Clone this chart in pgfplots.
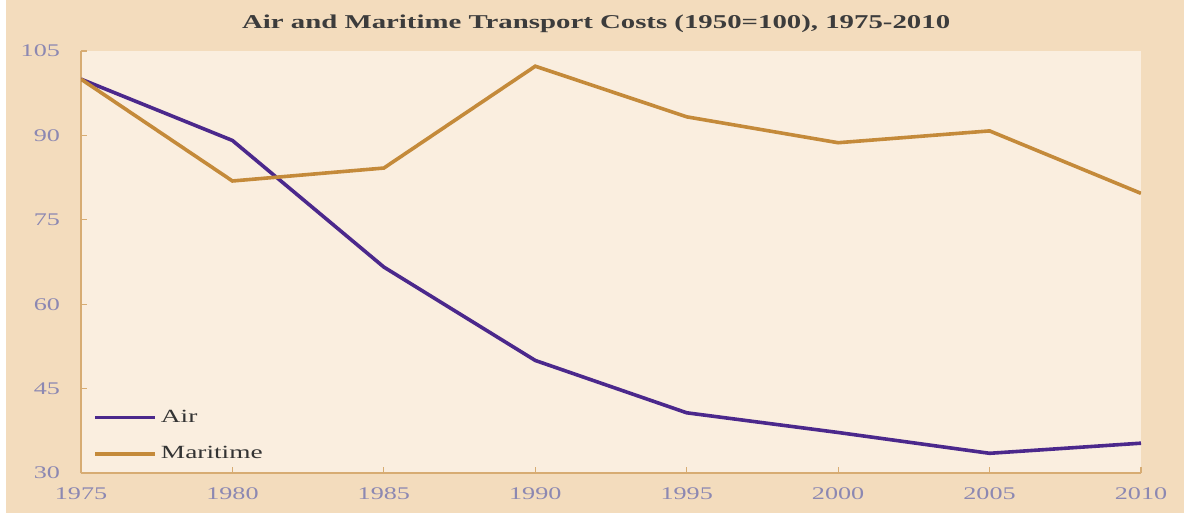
\documentclass[border=0pt]{standalone}
\usepackage{fontspec}
\setmainfont{Liberation Serif}[FakeStretch=1.47]
\usepackage{pgfplots}
\pgfplotsset{compat=1.18}
\definecolor{outerbg}{RGB}{243,220,189}
\definecolor{plotbg}{RGB}{250,238,223}
\definecolor{aircol}{RGB}{75,40,140}
\definecolor{marcol}{RGB}{196,138,58}
\definecolor{axcol}{RGB}{215,172,115}
\definecolor{tickcol}{RGB}{140,136,178}
\definecolor{titlecol}{RGB}{60,60,60}
\begin{document}
\begin{tikzpicture}
\path[use as bounding box] (-40.5bp,-21bp) rectangle (551.5bp,236.5bp);
\fill[white] (-40.5bp,-21bp) rectangle (551.5bp,236.5bp);
\fill[outerbg] (-37.5bp,-20bp) rectangle (551.5bp,236.5bp);
\begin{axis}[
  at={(0,0)}, anchor=south west,
  scale only axis, width=530bp, height=211bp,
  xmin=1975, xmax=2010, ymin=30, ymax=105,
  xtick={1975,1980,...,2010}, ytick={30,45,...,105},
  axis lines=left, axis line style={-, draw=axcol, line width=1bp},
  tick align=inside, major tick length=3bp,
  tick style={draw=axcol, line width=0.6bp},
  axis background/.style={fill=plotbg},
  /pgf/number format/assume math mode=true,
  /pgf/number format/1000 sep={},
  ticklabel style={font=\fontsize{8.9bp}{10bp}\selectfont, text=tickcol},
  xticklabel style={yshift=-4bp},
  yticklabel style={xshift=-7bp},
  title={Air and Maritime Transport Costs (1950=100), 1975-2010},
  title style={at={(axis description cs:0.486,1)}, anchor=base, yshift=5.5bp,
    font=\fontsize{9.8bp}{11bp}\selectfont\bfseries, text=titlecol, inner sep=0pt},
  legend cell align=left,
  legend image code/.code={\draw[#1] (0bp,0bp) -- (30bp,0bp);},
  legend style={draw=none, fill=none, at={(axis description cs:0.0113,0.017)}, anchor=south west,
    font=\fontsize{9.3bp}{11bp}\selectfont, text=black!80, row sep=6.5bp, inner sep=0pt},
]
\addplot[aircol, line width=1.8bp] coordinates {
 (1975,100) (1980,89.1) (1985,66.6) (1990,50.0) (1995,40.7) (2000,37.2) (2005,33.5) (2010,35.3)};
\addlegendentry{Air}
\addplot[marcol, line width=1.8bp] coordinates {
 (1975,100) (1980,81.9) (1985,84.2) (1990,102.3) (1995,93.3) (2000,88.7) (2005,90.8) (2010,79.7)};
\addlegendentry{Maritime}
\end{axis}
\end{tikzpicture}
\end{document}
